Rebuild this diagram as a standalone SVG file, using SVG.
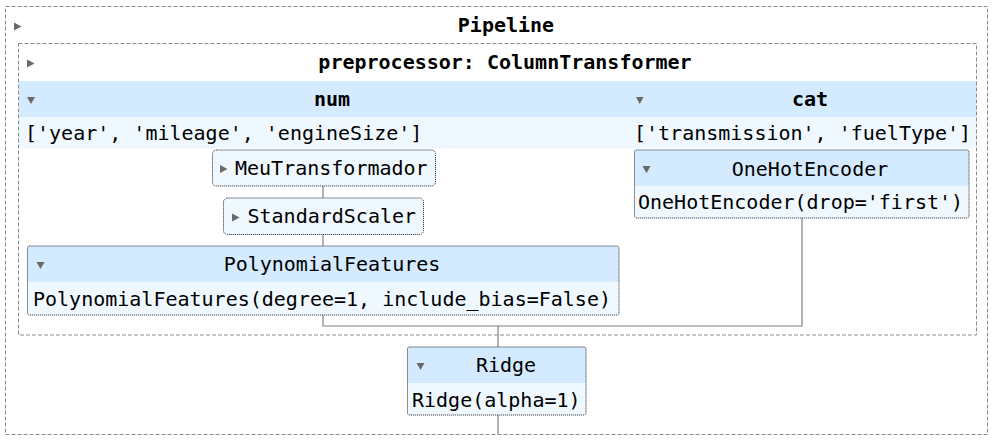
<svg xmlns="http://www.w3.org/2000/svg" width="995" height="441" viewBox="0 0 995 441">
<style>
  text { font-family: "DejaVu Sans Mono", "Liberation Mono", monospace; font-size: 20px; fill: #000; }
  .b { font-weight: bold; }
  .mid { text-anchor: middle; }
  .dash { fill: none; stroke: #8a8a8a; stroke-width: 1; stroke-dasharray: 4 2; }
  .est { fill: #f0f8ff; stroke: #222; stroke-width: 1; stroke-dasharray: 1 1; }
  .hdr { fill: #d4ebff; }
  .lt { fill: #f0f8ff; }
  .tri { fill: #696969; }
  .conn { fill: none; stroke: #808080; stroke-width: 1.2; }
</style>
<rect width="995" height="441" fill="#ffffff"/>

<g id="pipeline">
  <rect class="dash" x="5.5" y="6.5" width="982" height="428"/>
  <polygon class="tri" points="14,22.5 21.5,26.5 14,30.5"/>
  <text class="b mid" x="506" y="32">Pipeline</text>
</g>

<g id="connectors">
  <line class="conn" x1="323" y1="186" x2="323" y2="198"/>
  <line class="conn" x1="323" y1="234.5" x2="323" y2="246"/>
  <polyline class="conn" points="323,315 323,326 802,326 802,218"/>
  <line class="conn" x1="498" y1="326" x2="498" y2="347"/>
  <line class="conn" x1="498" y1="415" x2="498" y2="434"/>
</g>

<g id="preprocessor">
  <rect class="dash" x="18.5" y="43.5" width="958" height="291.5"/>
  <polygon class="tri" points="27,59.5 34.5,63.5 27,67.5"/>
  <text class="b mid" x="505" y="68.5">preprocessor: ColumnTransformer</text>
</g>

<g id="num">
  <rect class="hdr" x="19" y="81" width="611" height="36"/>
  <rect class="lt" x="19" y="117" width="611" height="31.5"/>
  <polygon class="tri" points="27,97 35,97 31,104"/>
  <text class="b mid" x="332" y="106">num</text>
  <text x="25" y="139.5">['year', 'mileage', 'engineSize']</text>
</g>

<g id="cat">
  <rect class="hdr" x="630" y="81" width="346" height="36"/>
  <rect class="lt" x="630" y="117" width="346" height="31.5"/>
  <polygon class="tri" points="636,97 643.5,97 639.75,104"/>
  <text class="b mid" x="810" y="106">cat</text>
  <text x="634" y="139.5">['transmission', 'fuelType']</text>
</g>

<g id="meutransformador">
  <rect class="est" x="212.5" y="150" width="223" height="36" rx="4"/>
  <polygon class="tri" points="220,165 227.5,169 220,173"/>
  <text x="235" y="175">MeuTransformador</text>
</g>

<g id="standardscaler">
  <rect class="est" x="223.5" y="198" width="200" height="36.5" rx="4"/>
  <polygon class="tri" points="232,213.5 239.5,217.5 232,221.5"/>
  <text x="247.5" y="223">StandardScaler</text>
</g>

<g id="polynomialfeatures">
  <rect class="lt" x="27.5" y="246" width="591.5" height="69" rx="2"/>
  <rect class="hdr" x="27.5" y="246" width="591.5" height="36"/>
  <rect class="est" x="27.5" y="246" width="591.5" height="69" rx="2" style="fill:none"/>
  <polygon class="tri" points="36.5,262 44.5,262 40.5,269"/>
  <text class="mid" x="332" y="271">PolynomialFeatures</text>
  <text x="33" y="305.5">PolynomialFeatures(degree=1, include_bias=False)</text>
</g>

<g id="onehotencoder">
  <rect class="lt" x="634.5" y="150" width="334.5" height="68" rx="2"/>
  <rect class="hdr" x="634.5" y="150" width="334.5" height="36"/>
  <rect class="est" x="634.5" y="150" width="334.5" height="68" rx="2" style="fill:none"/>
  <polygon class="tri" points="642.5,166 650.5,166 646.5,173.3"/>
  <text class="mid" x="810" y="175.5">OneHotEncoder</text>
  <text x="638" y="209">OneHotEncoder(drop='first')</text>
</g>

<g id="ridge">
  <rect class="lt" x="407.5" y="347" width="178.5" height="68" rx="2"/>
  <rect class="hdr" x="407.5" y="347" width="178.5" height="36"/>
  <rect class="est" x="407.5" y="347" width="178.5" height="68" rx="2" style="fill:none"/>
  <polygon class="tri" points="416.5,363 424.5,363 420.5,370"/>
  <text class="mid" x="506" y="372">Ridge</text>
  <text x="412" y="406.5">Ridge(alpha=1)</text>
</g>
</svg>
